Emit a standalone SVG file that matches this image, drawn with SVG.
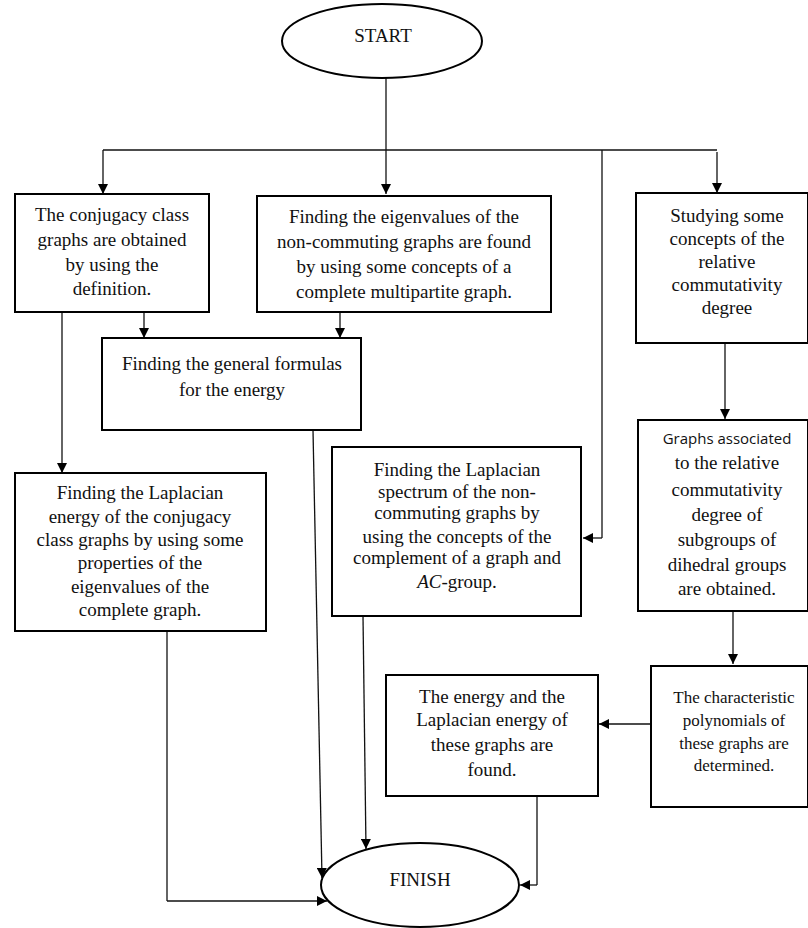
<svg xmlns="http://www.w3.org/2000/svg" width="808" height="928" viewBox="0 0 808 928">
<defs>
<marker id="ah" viewBox="0 0 10 10" refX="10" refY="5" markerWidth="11" markerHeight="10" markerUnits="userSpaceOnUse" orient="auto">
<path d="M0,0 L10,5 L0,10 z" fill="#000"/>
</marker>
<style>
.box{fill:#fff;stroke:#000;stroke-width:2}
.ell{fill:#fff;stroke:#000;stroke-width:2}
.t{font-family:"Liberation Serif","Times New Roman",serif;font-size:19px;fill:#111;text-anchor:middle}
.ts{font-family:"Liberation Serif","Times New Roman",serif;font-size:17px;fill:#111;text-anchor:middle}
.tsans{font-family:"Open Sans","DejaVu Sans",sans-serif;font-size:15px;fill:#111;text-anchor:middle}
.c{fill:none;stroke:#111;stroke-width:1.3}
.ca{fill:none;stroke:#111;stroke-width:1.3;marker-end:url(#ah)}
</style>
</defs>
<rect width="808" height="928" fill="#fff"/>

<g id="connectors">
<path class="c" d="M386,78 V150"/>
<path class="c" d="M103,150 H717"/>
<path class="ca" d="M386,150 V194"/>
<path class="ca" d="M103,150 V194"/>
<path class="ca" d="M717,152 V193"/>
<path class="c" d="M602,150 V538"/>
<path class="ca" d="M602,538 H583"/>
<path class="ca" d="M144,312 V338"/>
<path class="ca" d="M340,312 V338"/>
<path class="ca" d="M62,312 V473"/>
<path class="ca" d="M725,343 V419"/>
<path class="ca" d="M733,611 V664"/>
<path class="ca" d="M651,724 H599"/>
<path class="c" d="M537,796 V885"/>
<path class="ca" d="M537,885 H520"/>
<path class="c" d="M167,631 V901"/>
<path class="ca" d="M167,901 H327"/>
<path class="ca" d="M313,430 L322,878"/>
<path class="ca" d="M363,616 L366,849"/>
</g>

<g id="start">
<ellipse class="ell" cx="382" cy="41" rx="100" ry="37"/>
<text class="t" x="383" y="42">START</text>
</g>

<g id="box1">
<rect class="box" x="15" y="194" width="194" height="118"/>
<text class="t" x="112" y="221">The conjugacy class</text>
<text class="t" x="112" y="246">graphs are obtained</text>
<text class="t" x="112" y="271">by using the</text>
<text class="t" x="112" y="295">definition.</text>
</g>

<g id="box2">
<rect class="box" x="257" y="196" width="294" height="116"/>
<text class="t" x="404" y="223">Finding the eigenvalues of the</text>
<text class="t" x="404" y="248">non-commuting graphs are found</text>
<text class="t" x="404" y="273">by using some concepts of a</text>
<text class="t" x="404" y="298">complete multipartite graph.</text>
</g>

<g id="box3">
<rect class="box" x="102" y="338" width="259" height="92"/>
<text class="t" x="232" y="370">Finding the general formulas</text>
<text class="t" x="232" y="396">for the energy</text>
</g>

<g id="box4">
<rect class="box" x="636" y="193" width="172" height="150"/>
<text class="t" x="727" y="222">Studying some</text>
<text class="t" x="727" y="245">concepts of the</text>
<text class="t" x="727" y="268">relative</text>
<text class="t" x="727" y="291">commutativity</text>
<text class="t" x="727" y="314">degree</text>
</g>

<g id="box5">
<rect class="box" x="638" y="420" width="170" height="191"/>
<text class="tsans" x="727" y="444">Graphs associated</text>
<text class="t" x="727" y="469">to the relative</text>
<text class="t" x="727" y="496">commutativity</text>
<text class="t" x="727" y="521">degree of</text>
<text class="t" x="727" y="546">subgroups of</text>
<text class="t" x="727" y="571">dihedral groups</text>
<text class="t" x="727" y="595">are obtained.</text>
</g>

<g id="box6">
<rect class="box" x="651" y="666" width="157" height="141"/>
<text class="ts" x="734" y="703">The characteristic</text>
<text class="ts" x="734" y="726">polynomials of</text>
<text class="ts" x="734" y="749">these graphs are</text>
<text class="ts" x="734" y="771">determined.</text>
</g>

<g id="box7">
<rect class="box" x="386" y="675" width="212" height="121"/>
<text class="t" x="492" y="703">The energy and the</text>
<text class="t" x="492" y="726">Laplacian energy of</text>
<text class="t" x="492" y="751">these graphs are</text>
<text class="t" x="492" y="776">found.</text>
</g>

<g id="box8">
<rect class="box" x="15" y="473" width="251" height="158"/>
<text class="t" x="140" y="499">Finding the Laplacian</text>
<text class="t" x="140" y="523">energy of the conjugacy</text>
<text class="t" x="140" y="546">class graphs by using some</text>
<text class="t" x="140" y="569">properties of the</text>
<text class="t" x="140" y="593">eigenvalues of the</text>
<text class="t" x="140" y="616">complete graph.</text>
</g>

<g id="box9">
<rect class="box" x="332" y="447" width="249" height="169"/>
<text class="t" x="457" y="476">Finding the Laplacian</text>
<text class="t" x="457" y="498">spectrum of the non-</text>
<text class="t" x="457" y="519">commuting graphs by</text>
<text class="t" x="457" y="543">using the concepts of the</text>
<text class="t" x="457" y="564">complement of a graph and</text>
<text class="t" x="457" y="588"><tspan font-style="italic">AC</tspan>-group.</text>
</g>

<g id="finish">
<ellipse class="ell" cx="420" cy="885" rx="99" ry="42"/>
<text class="t" x="420" y="886">FINISH</text>
</g>
</svg>
